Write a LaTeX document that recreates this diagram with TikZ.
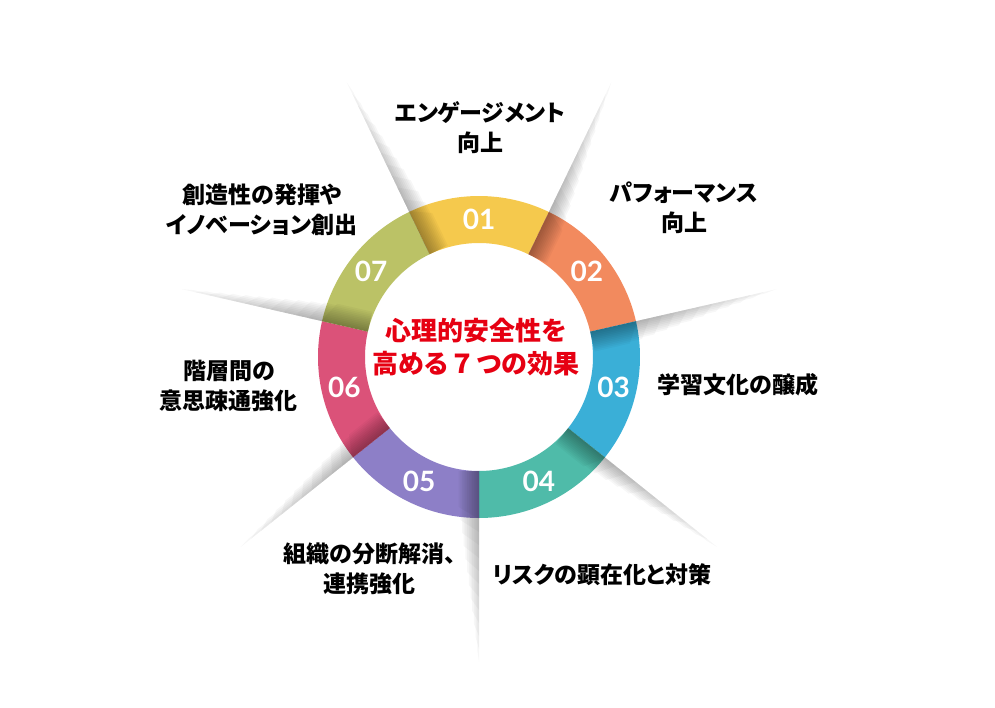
\documentclass[tikz,border=0pt]{standalone}
\usepackage{fontspec}
\setmainfont{Noto Sans CJK JP}[CharacterWidth=AlternateProportional]
\newfontfamily\numfont{Lato}
\usepackage{xcolor}

\definecolor{segA}{HTML}{F5C94D}
\definecolor{segB}{HTML}{F28A5E}
\definecolor{segC}{HTML}{3AAFD7}
\definecolor{segD}{HTML}{4FBBA9}
\definecolor{segE}{HTML}{8D7FC7}
\definecolor{segF}{HTML}{DB5279}
\definecolor{segG}{HTML}{BBC266}
\definecolor{titlered}{HTML}{E60012}

\tikzset{
  lbl/.style={font=\fontsize{23}{30}\selectfont\bfseries, align=center, text=black},
  num/.style={font=\numfont\fontsize{28}{28}\selectfont\bfseries, text=white},
  titletext/.style={font=\fontsize{26}{33}\selectfont\bfseries, align=center, text=titlered}
}

\begin{document}
\begin{tikzpicture}[x=1pt,y=1pt]
\useasboundingbox (-479,-350) rectangle (516,357);

% Ring
\foreach \i/\c in {1/segA,2/segB,3/segC,4/segD,5/segE,6/segF,7/segG}{
  \pgfmathsetmacro\a{90-(\i-1)*360/7}
  \fill[\c] (\a+25.714:161) arc[start angle=\a+25.714, end angle=\a-25.714, radius=161]
    -- (\a-25.714:114) arc[start angle=\a-25.714, end angle=\a+25.714, radius=114] -- cycle;
  \node[num] (n\i) at (\a:138) {0\i};
}

% Fold shadows
\foreach \i in {1,...,7}{
  \pgfmathsetmacro\b{115.714-(\i-1)*360/7}
  \begin{scope}[rotate=\b]
    \foreach \j in {1,...,12}
      \fill[black, opacity=0.03] (114,0) -- (318-13*\j,0) -- (306-13*\j,-1.7*\j) -- (114,-1.7*\j) -- cycle;
  \end{scope}
}

% Center
\node[titletext] (ttl) at (-3,10) {心理的安全性を\\高める\,７\,つの効果};

% Labels
\node[lbl] (l1) at (1,229) {エンゲージメント\\向上};
\node[lbl] (l2) at (205,149) {パフォーマンス\\向上};
\node[lbl] (l3) at (259,-28) {学習文化の醸成};
\node[lbl] (l4) at (123,-218) {リスクの顕在化と対策};
\node[lbl] (l5) at (-109,-212) {組織の分断解消、\\連携強化};
\node[lbl] (l6) at (-250,-29) {階層間の\\意思疎通強化};
\node[lbl] (l7) at (-217,147) {創造性の発揮や\\イノベーション創出};
\end{tikzpicture}
\end{document}
